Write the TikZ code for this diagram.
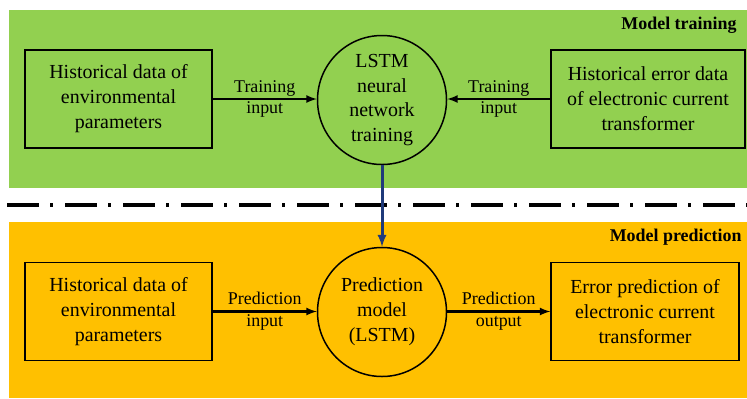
\documentclass[tikz,border=0pt]{standalone}
\usepackage{fontspec}
\setmainfont{LiberationSerif}[Extension=.ttf, UprightFont=*-Regular, BoldFont=*-Bold, ItalicFont=*-Italic, BoldItalicFont=*-BoldItalic]

\definecolor{traingreen}{HTML}{92D050}
\definecolor{predorange}{HTML}{FFC000}
\definecolor{linkblue}{HTML}{1F3A7A}

\tikzset{
    databox/.style={draw, line width=1.5bp, minimum height=98bp, inner sep=0pt, align=center, font=\fontsize{20}{25}\selectfont},
    lstmnode/.style={draw, circle, line width=1.5bp, minimum size=129bp, inner sep=0pt, align=center, font=\fontsize{20}{25}\selectfont},
    flow/.style={line width=2.5bp, -latex},
    flowlabel/.style={align=center, font=\fontsize{18}{22}\selectfont},
    paneltitle/.style={anchor=east, font=\bfseries\fontsize{18}{22}\selectfont}
}

\begin{document}
\begin{tikzpicture}[x=1bp, y=-1bp]

    \useasboundingbox (0, 0) rectangle (747, 398);

    % panels
    \fill[color=traingreen] (9, 10) rectangle (747, 188);
    \fill[color=predorange] (9, 222) rectangle (747, 398);

    \draw[line width=3.5bp, dash pattern=on 32bp off 11bp on 3bp off 12bp] (7, 205) -- (747, 205);

    \node[paneltitle] (traintitle) at (740, 25) {Model training};
    \node[paneltitle] (predtitle) at (745, 237) {Model prediction};

    % training part
    \node[databox, minimum width=187bp] (envtrain) at (118.5, 99) {Historical data of\\environmental\\parameters};
    \node[lstmnode] (lstmtrain) at (382, 100) {LSTM\\neural\\network\\training};
    \node[databox, minimum width=194bp] (errtrain) at (648, 99) {Historical error data\\of electronic current\\transformer};

    \draw[flow] (envtrain.east) -- node[flowlabel] {Training\\input} (envtrain.east -| lstmtrain.west);
    \draw[flow] (errtrain.west) -- node[flowlabel] {Training\\input} (errtrain.west -| lstmtrain.east);

    % prediction part
    \node[databox, minimum width=187bp] (envpred) at (118.5, 311.5) {Historical data of\\environmental\\parameters};
    \node[lstmnode] (lstmpred) at (382, 312) {Prediction\\model\\(LSTM)};
    \node[databox, minimum width=188bp] (errpred) at (645, 311.5) {Error prediction of\\electronic current\\transformer};

    \draw[flow] (envpred.east) -- node[flowlabel] {Prediction\\input} (envpred.east -| lstmpred.west);
    \draw[flow] (lstmpred.east |- errpred.west) -- node[flowlabel] {Prediction\\output} (errpred.west);

    \draw[flow, line width=3bp, color=linkblue] (lstmtrain.south) -- (lstmpred.north);

\end{tikzpicture}
\end{document}
